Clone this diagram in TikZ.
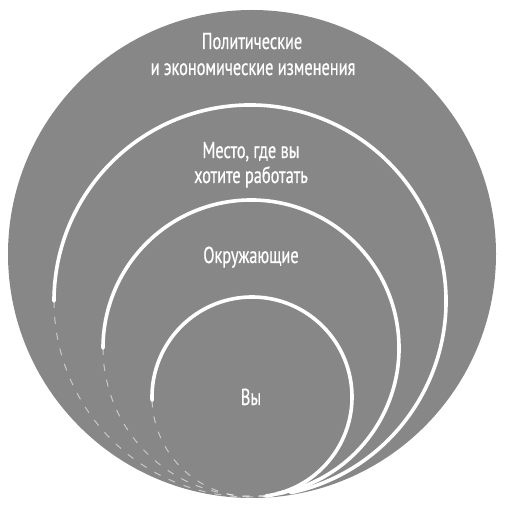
\documentclass[tikz,border=0pt]{standalone}
\usepackage{fontspec}
\newfontfamily\lblfont[FakeStretch=0.71,FakeBold=0.6]{PT Sans}
\definecolor{discgray}{RGB}{135,135,135}
\begin{document}
\begin{tikzpicture}[x=1pt,y=1pt,
  ring/.style={draw=white,line width=3.6pt,line cap=round},
  faint/.style={draw=white,line width=1pt,opacity=0.55,dash pattern=on 7pt off 9pt},
  lbl/.style={text=white,font=\lblfont\fontsize{23}{26}\selectfont,inner sep=0pt,anchor=base}]
\useasboundingbox (0,0) rectangle (504,506);
% outer disc
\fill[discgray] (252,252) circle (244);
% ring 2 : centre (250,205), r 196
\draw[ring] (250,205) ++(-78:196) arc (-78:180:196);
\draw[faint] (250,205) ++(180:196) arc (180:282:196);
% ring 3 : centre (251,158), r 148
\draw[ring] (251,158) ++(-80:148) arc (-80:180:148);
\draw[faint] (251,158) ++(180:148) arc (180:280:148);
% ring 4 : centre (252,109), r 100
\draw[ring] (252,109) ++(-82:100) arc (-82:182:100);
\draw[faint] (252,109) ++(182:100) arc (182:278:100);
% labels
\node[lbl] (pol1) at (252,457) {Политические};
\node[lbl] (pol2) at (253,431) {и экономические изменения};
\node[lbl] (job1) at (251,348) {Место, где вы};
\node[lbl] (job2) at (251,323) {хотите работать};
\node[lbl] (env) at (251,243) {Окружающие};
\node[lbl] (you) at (251,101) {Вы};
\end{tikzpicture}
\end{document}
